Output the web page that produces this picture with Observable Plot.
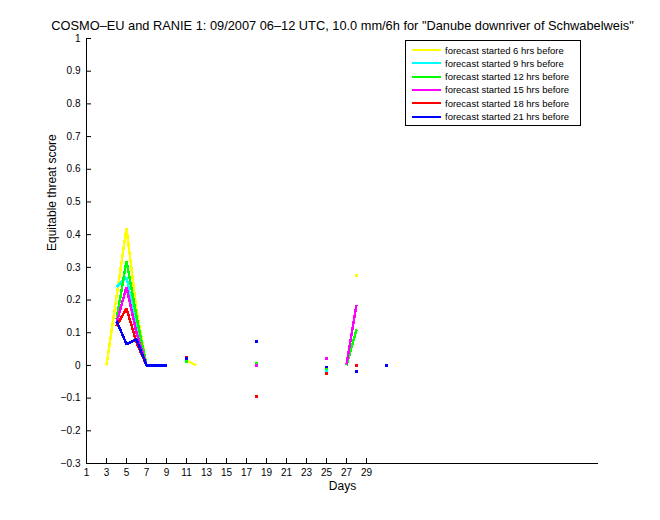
<!DOCTYPE html>
<html>
<head>
<meta charset="utf-8">
<script src="https://cdn.jsdelivr.net/npm/d3@7"></script>
<script src="https://cdn.jsdelivr.net/npm/@observablehq/plot@0.6"></script>
<style>
  body { margin: 0; background: #fff; }
  #wrap { position: relative; width: 660px; height: 520px; font-family: "Liberation Sans", Arial, sans-serif; }
  #legend { position: absolute; left: 405px; top: 40px; width: 174px; height: 84px; border: 1px solid #000; background: #fff; box-sizing: content-box; }
  .row { position: absolute; left: 0; height: 13px; display: flex; align-items: center; font-size: 9.5px; white-space: nowrap; }
  .sw { width: 29px; height: 2px; margin-left: 6px; margin-right: 4px; }
</style>
</head>
<body>
<div id="wrap"><div id="legend"></div></div>
<script>
const _ = null;
const days = d3.range(1, 32);
const xTicks = [1,3,5,7,9,11,13,15,17,19,21,23,25,27,29];
const yTicks = [-0.3,-0.2,-0.1,0,0.1,0.2,0.3,0.4,0.5,0.6,0.7,0.8,0.9,1];
const seriesNames = ["forecast started 6 hrs before","forecast started 9 hrs before","forecast started 12 hrs before","forecast started 15 hrs before","forecast started 18 hrs before","forecast started 21 hrs before"];
const seriesColors = ["#ffff00","#00ffff","#00ff00","#ff00ff","#ff0000","#0000ff"];
//            d1 d2 d3  d4    d5    d6    d7 d8 d9 d10 d11    d12 d13..d17      d18    d19..d24         d25    d26 d27   d28    d29 d30 d31
const ets6  = [_, _, 0, 0.21, 0.42, 0.17, 0, 0, 0, _, 0.015, 0,  _,_,_,_,_,   _,     _,_,_,_,_,_,     _,     _,  _,    0.275, _,  _,  _];
const ets9  = [_, _, _, 0.24, 0.27, 0.12, 0, 0, 0, _, 0.018, _,  _,_,_,_,_,   _,     _,_,_,_,_,_,     -0.018,_,  _,    _,     _,  _,  _];
const ets12 = [_, _, _, 0.14, 0.32, 0.15, 0, 0, 0, _, 0.012, _,  _,_,_,_,_,   0.005, _,_,_,_,_,_,     -0.01, _,  0,    0.11,  _,  _,  _];
const ets15 = [_, _, _, 0.13, 0.24, 0.10, 0, 0, 0, _, _,     _,  _,_,_,_,_,   0.0,   _,_,_,_,_,_,     0.02,  _,  0.003,0.185, _,  _,  _];
const ets18 = [_, _, _, 0.12, 0.175,0.07, 0, 0, 0, _, 0.025, _,  _,_,_,_,_,   -0.095,_,_,_,_,_,_,     -0.025,_,  _,    0.0,   _,  _,  _];
const ets21 = [_, _, _, 0.137,0.065,0.08, 0, 0, 0, _, 0.02,  _,  _,_,_,_,_,   0.074, _,_,_,_,_,_,     -0.005,_,  _,    -0.018,_,  _,  0];
const seriesValues = [ets6, ets9, ets12, ets15, ets18, ets21];

const marks = [];
seriesValues.forEach((vals, s) => {
  const data = days.map((d, i) => ({day: d, v: vals[i]}));
  const iso = data.filter((p, i) => p.v !== null && (i === 0 || vals[i-1] === null) && (i === vals.length-1 || vals[i+1] === null));
  marks.push(Plot.line(data, {x: "day", y: "v", stroke: seriesColors[s], strokeWidth: 2.5, strokeLinejoin: "miter", strokeLinecap: "butt", shapeRendering: "crispEdges"}));
  marks.push(Plot.dot(iso, {x: "day", y: "v", fill: seriesColors[s], r: 1.6, symbol: "square", shapeRendering: "crispEdges"}));
});

const font = "Liberation Sans, Arial, sans-serif";
const title = 'COSMO\u2013EU and RANIE 1: 09/2007 06\u201312 UTC, 10.0 mm/6h for "Danube downriver of Schwabelweis"';

const chart = Plot.plot({
  width: 660, height: 520,
  marginLeft: 86, marginRight: 62, marginTop: 38, marginBottom: 57,
  style: {fontFamily: font, fontSize: "10px", background: "white", color: "black"},
  x: {domain: [1, 52.2]},
  y: {domain: [-0.3, 1]},
  marks: [
    ...marks,
    Plot.ruleY([-0.3], {stroke: "black", strokeWidth: 1}),
    Plot.ruleX([1], {stroke: "black", strokeWidth: 1}),
    Plot.ruleX(xTicks, {y1: -0.3, y2: -0.3, insetTop: -5, stroke: "black"}),
    Plot.ruleY(yTicks, {x1: 1, x2: 1, insetRight: -5, stroke: "black"}),
    Plot.axisX({ticks: xTicks, tickSize: 0, tickPadding: 5, label: null, tickFormat: d => String(d), fontSize: 10}),
    Plot.axisY({ticks: yTicks, tickSize: 0, tickPadding: 6, label: null, tickFormat: d => String(d).replace("-", "\u2212"), fontSize: 10}),
    Plot.text([title], {frameAnchor: "top", dy: -18, fontSize: 12.8, text: d => d}),
    Plot.text(["Days"], {frameAnchor: "bottom", dy: 26, fontSize: 12, text: d => d}),
    Plot.text(["Equitable threat score"], {frameAnchor: "left", dx: -34, rotate: -90, fontSize: 12, text: d => d})
  ]
});
const wrap = document.getElementById("wrap");
wrap.insertBefore(chart, wrap.firstChild);

const legend = document.getElementById("legend");
seriesNames.forEach((n, i) => {
  const row = document.createElement("div");
  row.className = "row";
  row.style.top = (2.5 + i * 13.3) + "px";
  const sw = document.createElement("div");
  sw.className = "sw";
  sw.style.background = seriesColors[i];
  const t = document.createElement("span");
  t.textContent = n;
  row.appendChild(sw); row.appendChild(t);
  legend.appendChild(row);
});
</script>
</body>
</html>
